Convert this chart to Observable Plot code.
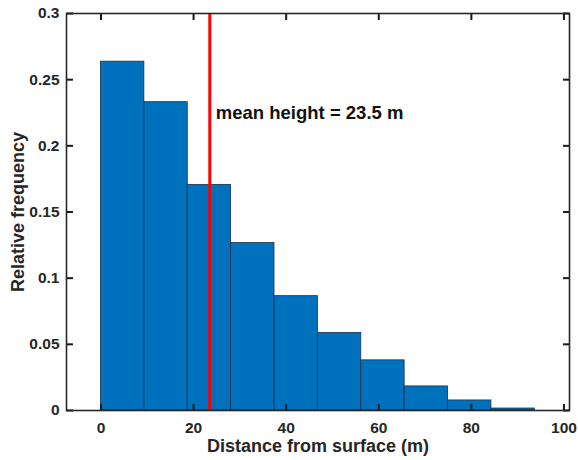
<!DOCTYPE html>
<html>
<head>
<meta charset="utf-8">
<script src="https://cdn.jsdelivr.net/npm/d3@7"></script>
<script src="https://cdn.jsdelivr.net/npm/@observablehq/plot@0.6"></script>
<style>
  html, body { margin: 0; padding: 0; background: #fff; }
  svg { font-family: "Liberation Sans", Arial, sans-serif; }
  g[aria-label="x-axis label"], g[aria-label="y-axis label"] { font-size: 18px; }
</style>
</head>
<body>
<div id="chart"></div>
<script>
const binEdges = [0, 9.37, 18.74, 28.11, 37.48, 46.85, 56.22, 65.59, 74.96, 84.33, 93.7];
const frequencies = [0.2636, 0.233, 0.1705, 0.1265, 0.0864, 0.0586, 0.0379, 0.0182, 0.0076, 0.0015];
const xTicks = [0, 20, 40, 60, 80, 100];
const yTicks = [0, 0.05, 0.1, 0.15, 0.2, 0.25, 0.3];
const meanHeight = 23.5;
const meanLabel = "mean height = 23.5 m";

const W = 578, H = 460, mL = 66, mR = 9, mT = 13, mB = 50;
const xDomain = [-7.45, 101.2], yDomain = [0, 0.3];
const frameW = W - mL - mR, frameH = H - mT - mB, tickLen = 6.5;
// inward tick length converted to data units of each scale
const tx = tickLen * (xDomain[1] - xDomain[0]) / frameW;
const ty = tickLen * (yDomain[1] - yDomain[0]) / frameH;

const bins = frequencies.map((f, i) => ({x1: binEdges[i], x2: binEdges[i + 1], y: f}));
const axisColor = "#262626";
const fmtY = d => String(+d.toFixed(2));
const tickRows = [
  ...xTicks.map(v => ({x1: v, x2: v, y1: yDomain[0], y2: yDomain[0] + ty})),
  ...xTicks.map(v => ({x1: v, x2: v, y1: yDomain[1] - ty, y2: yDomain[1]})),
  ...yTicks.map(v => ({x1: xDomain[0], x2: xDomain[0] + tx, y1: v, y2: v})),
  ...yTicks.map(v => ({x1: xDomain[1] - tx, x2: xDomain[1], y1: v, y2: v}))
];

const chart = Plot.plot({
  width: W,
  height: H,
  marginLeft: mL,
  marginRight: mR,
  marginTop: mT,
  marginBottom: mB,
  style: {fontSize: "15.5px", fontWeight: "bold", color: axisColor, fontFamily: "'Liberation Sans', Arial, sans-serif"},
  x: {domain: xDomain},
  y: {domain: yDomain},
  marks: [
    Plot.rectY(bins, {x1: "x1", x2: "x2", y: "y", fill: "#0072BD", stroke: "#1c2f45", strokeWidth: 0.8, inset: 0}),
    Plot.ruleX([meanHeight], {stroke: "#ff0000", strokeWidth: 3}),
    Plot.text([meanLabel], {x: meanHeight, y: 0.2245, text: d => d, textAnchor: "start", dx: 6, fontSize: 18.5, fontWeight: "bold", fill: "#111"}),
    Plot.link(tickRows, {x1: "x1", x2: "x2", y1: "y1", y2: "y2", stroke: "#1a1a1a", strokeWidth: 2}),
    Plot.frame({stroke: axisColor, strokeWidth: 1.6}),
    Plot.axisX(xTicks, {anchor: "bottom", tickSize: 0, tickPadding: 11, label: "Distance from surface (m)", labelAnchor: "center", labelArrow: "none", labelOffset: 41, fill: axisColor}),
    Plot.axisY(yTicks, {anchor: "left", tickSize: 0, tickPadding: 7, tickFormat: fmtY, label: "Relative frequency", labelAnchor: "center", labelArrow: "none", labelOffset: 55, fill: axisColor})
  ]
});
document.getElementById("chart").appendChild(chart);
</script>
</body>
</html>
